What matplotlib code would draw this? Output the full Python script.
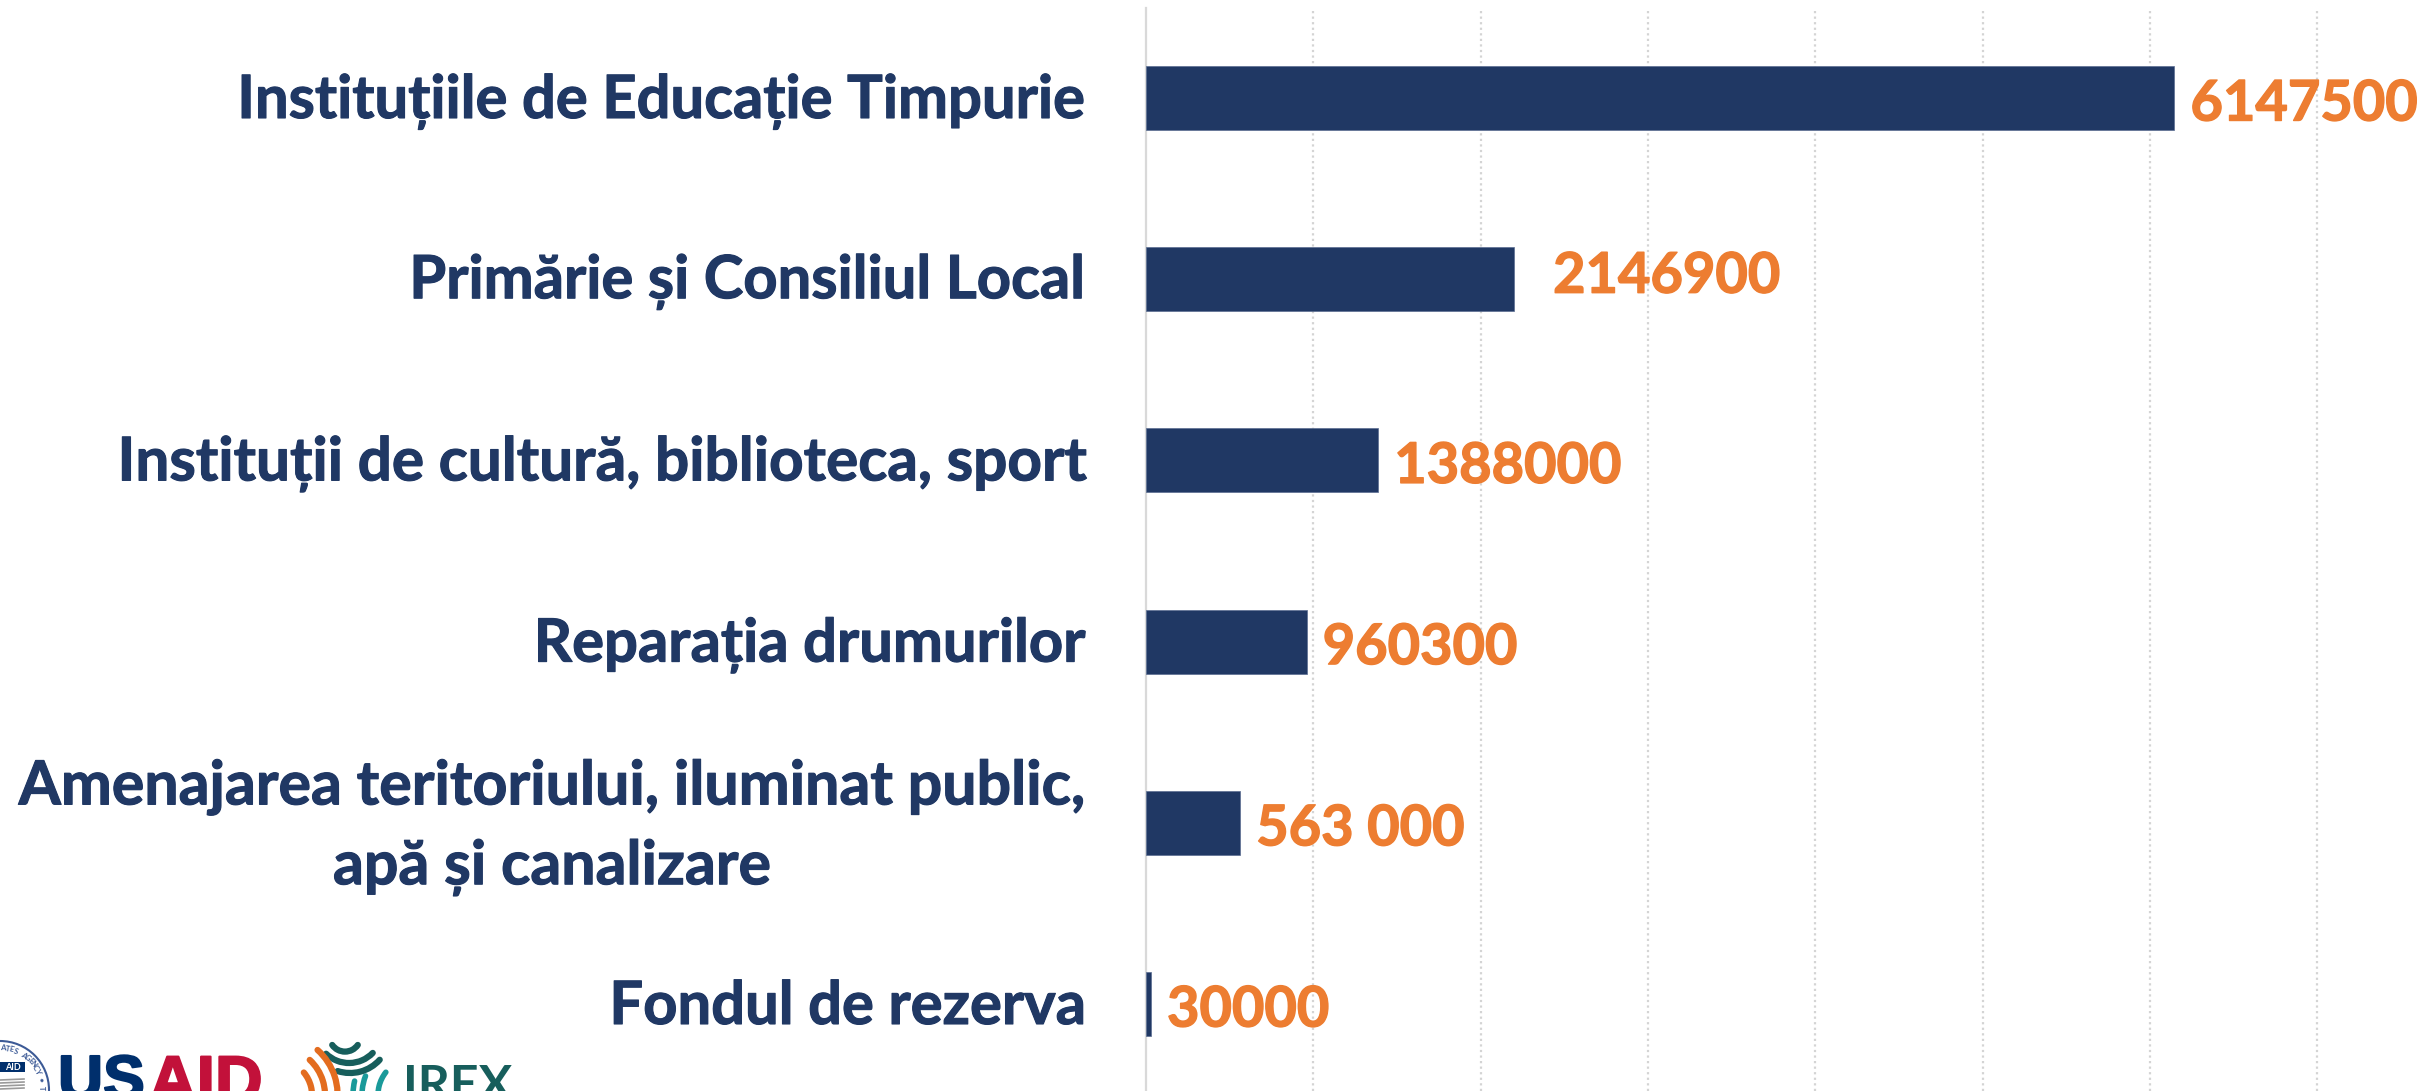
import numpy as np
import matplotlib
matplotlib.use("Agg")
import matplotlib.pyplot as plt
import matplotlib.patheffects as pe
from matplotlib.patches import Arc, Circle, Rectangle
from matplotlib.transforms import ScaledTranslation

categories = ["Instituțiile de Educație Timpurie",
              "Primărie și Consiliul Local",
              "Instituții de cultură, biblioteca, sport",
              "Reparația drumurilor",
              "Amenajarea teritoriului, iluminat public,\napă și canalizare",
              "Fondul de rezerva"]
values = [6147500, 2200000, 1388000, 960300, 563000, 30000]  #bar 2 is drawn longer than its label says
value_labels = ["6147500", "2146900", "1388000", "960300", "563 000", "30000"]
label_shift = [(0, 0), (23, 9), (0, 0), (0, 0), (0, 0), (0, 0)]  #px
cat_shift = [2, 3, 2, 2, 13, 2]  #px upwards
cat_size = [43, 43, 43.4, 43, 43.8, 43]

W, H = 2435, 1091
NAVY = "#203864"
ORANGE = "#ED7D31"
FONT = ["Lato", "Open Sans", "DejaVu Sans"]

plt.rcParams['font.family'] = FONT
plt.rcParams['font.weight'] = 'bold'

fig = plt.figure(figsize=(W/100, H/100), dpi=100)
px = 72/100  #points per pixel

#axes: left spine at x=1146, top of grid at y=8, runs off the bottom edge
ax = fig.add_axes([1146/W, 0, (W-1146)/W, (H-8)/H])
ax.set_xlim(0, (W-1146)/167.3*1e6)
y_pos = np.arange(len(categories))
#bar centres 98 ... 1004 px, 181.2 px apart
ax.set_ylim((H-98)/181.2, (8-98)/181.2)

ax.barh(y_pos, values, height=64/181.2, color=NAVY, edgecolor="#5a6d90", linewidth=0.5, zorder=3)

for i in range(len(values)):
    t = ax.annotate(value_labels[i], (values[i], y_pos[i]),
                    xytext=((16+label_shift[i][0])*px, (-2+label_shift[i][1])*px),
                    textcoords="offset points", ha="left", va="center_baseline",
                    color=ORANGE, fontsize=40.3, fontweight="bold", zorder=4)
    t.set_path_effects([pe.withStroke(linewidth=1.0, foreground=ORANGE)])

ax.set_yticks(y_pos)
ax.set_yticklabels(categories, color=NAVY, fontsize=43, fontweight="bold",
                   multialignment="center", linespacing=1.5)
ax.tick_params(axis="y", length=0, pad=60*px)
for i, lab in enumerate(ax.get_yticklabels()):
    lab.set_fontsize(cat_size[i])
    lab.set_transform(lab.get_transform() + ScaledTranslation(0, cat_shift[i]/100, fig.dpi_scale_trans))
    lab.set_path_effects([pe.withStroke(linewidth=0.8, foreground=NAVY)])
ax.set_xticks(np.arange(1, 8)*1e6)
ax.tick_params(axis="x", length=0, labelbottom=False)
ax.grid(axis="x", color="#d4d4d4", linestyle=(0, (1, 1.5)), linewidth=1.6, zorder=0)
ax.set_axisbelow(True)
for s in ["top", "right", "bottom"]:
    ax.spines[s].set_visible(False)
ax.spines["left"].set_color("#d9d9d9")
ax.spines["left"].set_linewidth(1.6)

#logos along the bottom edge, overlay in pixel coordinates
lg = fig.add_axes([0, 0, 1, 1], facecolor="none")
lg.set_xlim(0, W)
lg.set_ylim(H, 0)
lg.axis("off")

#=== USAID seal ===
SEAL = "#3c5a96"
lg.add_patch(Circle((0, 1090), 49, fill=False, ec=SEAL, lw=1.5))
lg.add_patch(Rectangle((0, 1062), 25, 10, color="#002F6C", lw=0))
lg.text(13, 1067.5, "AID", color="white", fontsize=6.5, ha="center", va="center")
seal_text = "ATES AGENCY • T"
for k, phi in enumerate(np.linspace(86, 2, len(seal_text))):
    lg.text(42*np.cos(np.radians(phi)), 1090 - 42*np.sin(np.radians(phi)), seal_text[k],
            color=SEAL, fontsize=5.5, ha="center", va="center", rotation=phi-90)
for yy in [1080, 1083, 1086, 1089]:
    lg.plot([0, 24], [yy, yy - 1], color="#9a9a9a", lw=1.2)

#=== USAID wordmark ===
us = lg.text(58, 1099, "US", color="#002F6C", fontsize=45, va="baseline", ha="left",
             family=["Liberation Sans"], fontweight="bold")
aid = lg.text(149, 1102, "AID", color="#C2113A", fontsize=47.5, va="baseline", ha="left",
              family=["Liberation Sans"], fontweight="bold")
us.set_path_effects([pe.withStroke(linewidth=1.5, foreground="#002F6C")])
aid.set_path_effects([pe.withStroke(linewidth=1.5, foreground="#C2113A")])

#=== IREX mark ===
for r, a in [(37, 218), (53, 201), (62, 193)]:
    lg.add_patch(Arc((415, 1095), r*2, r*2, theta1=170, theta2=a, color="#1A9A9A", lw=4, capstyle="round"))
for c, r, a, b in [((345, 1036), 15.6, 35, 145), ((349, 1030), 33, 44, 134), ((350, 1033), 40, 42, 108)]:
    lg.add_patch(Arc(c, r*2, r*2, theta1=a, theta2=b, color="#175E5C", lw=4.5, capstyle="round"))
for r, a in [(60.6, 312), (48, 313), (35, 320)]:
    lg.add_patch(Arc((277, 1095), r*2, r*2, theta1=a, theta2=372, color="#E36C1F", lw=4.5, capstyle="round"))
lg.text(403, 1101, "IREX", color="#175E5C", fontsize=36, va="baseline", ha="left",
        family=["Lato"], fontweight="bold")

fig.savefig("out.png", dpi=100)
